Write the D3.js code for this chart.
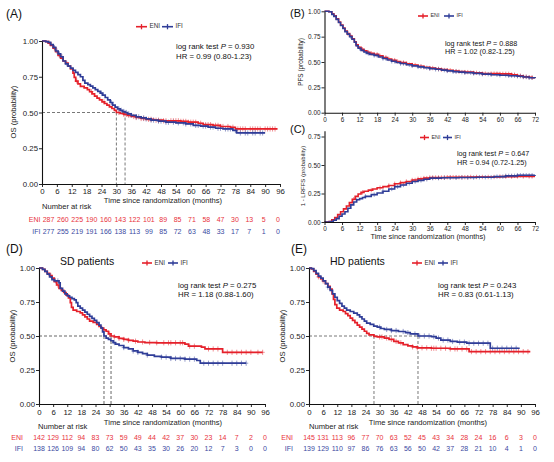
<!DOCTYPE html>
<html><head><meta charset="utf-8">
<script src="https://cdn.jsdelivr.net/npm/d3@7"></script>
<style>
body{margin:0;background:#fff}
svg{display:block}
text{font-family:"Liberation Sans",Arial,Helvetica,sans-serif}
</style>
</head><body>
<svg id="chart" width="554" height="462"></svg>
<script>
// ---------------- DATA ----------------
const monthTicks96 = [0,6,12,18,24,30,36,42,48,54,60,66,72,78,84,90,96];
const monthTicks72 = [0,6,12,18,24,30,36,42,48,54,60,66,72];
const probTicks = [0,0.25,0.5,0.75,1];
const probTicksC = [0,0.25,0.5,0.75];
const groups = ["ENI","IFI"];

// (A) OS, all patients  [month, probability]
const osAll_ENI = [[0,1],[1.5,0.995],[2.5,0.985],[3.5,0.97],[4.5,0.95],[5.5,0.925],[6.5,0.9],[7.5,0.88],[8.5,0.86],[9.5,0.845],[10.5,0.825],[11.5,0.805],[12.5,0.775],[13,0.745],[13.6,0.72],[14.5,0.7],[15.5,0.682],[17,0.672],[18.3,0.66],[19.2,0.645],[20.2,0.63],[21.2,0.615],[22.2,0.6],[23.2,0.588],[24.2,0.575],[25.2,0.563],[26.2,0.551],[27.2,0.54],[28.2,0.528],[29.2,0.515],[30,0.5],[31.5,0.493],[33,0.487],[34.5,0.48],[36,0.472],[38,0.465],[40,0.458],[42,0.452],[45,0.446],[49,0.442],[56,0.438],[59,0.432],[63,0.425],[65,0.415],[69,0.41],[72,0.402],[76,0.397],[78,0.385],[95,0.385]];
const osAll_IFI = [[0,1],[1.5,0.996],[2.5,0.99],[3.5,0.975],[4.5,0.955],[5.5,0.93],[6.5,0.91],[7.5,0.89],[8.5,0.86],[9.5,0.84],[10.5,0.825],[11.5,0.81],[12.5,0.795],[13.5,0.78],[14.5,0.765],[15.5,0.75],[16.5,0.725],[17.3,0.705],[18.5,0.695],[19.5,0.685],[20.5,0.672],[21.5,0.66],[22.5,0.648],[23.5,0.635],[24.5,0.622],[25.5,0.605],[26.5,0.588],[27.5,0.57],[28.5,0.552],[29.5,0.537],[30.5,0.525],[31.5,0.515],[32.5,0.507],[33.5,0.5],[34.5,0.49],[36,0.48],[38,0.47],[40,0.462],[42,0.455],[44,0.447],[47,0.44],[50,0.432],[54,0.428],[58,0.42],[61,0.41],[64,0.405],[67,0.398],[70,0.39],[73,0.385],[77,0.375],[78.5,0.357],[90,0.357]];
const censAll_ENI = [3,5,7,14,20,25,31,33,34,35,37,38,40,41,43,44,46,47,49,50,52,53,54,55,56,57,58,59,60,61,62,64,66,67,68,70,71,72,73,75,77,79,80,81,82,84,85,86,87,88,90,91,92,93,94];
const censAll_IFI = [5,6,7,8,10,24,28,31,32,33,34,35,36,38,39,41,42,44,45,47,48,50,51,53,55,57,58,60,62,63,65,66,68,69,71,72,74,75,76,78,80,82,83,85,86,88,89];
const mediansAll = [30, 33.5];
const riskAll_ENI = [287,260,225,190,160,143,122,101,89,85,71,58,47,30,13,5,0];
const riskAll_IFI = [277,255,219,191,166,138,113,99,85,72,63,48,33,17,7,1,0];

// (B) PFS
const pfs_ENI = [[0,1],[1.5,0.995],[2.5,0.975],[3.2,0.955],[4,0.925],[4.8,0.895],[5.5,0.865],[6.3,0.835],[7,0.805],[7.8,0.78],[8.6,0.755],[9.4,0.73],[10.2,0.7],[10.8,0.67],[11.5,0.645],[12.5,0.625],[13.5,0.61],[14.5,0.595],[15.5,0.585],[17,0.575],[18.5,0.56],[20,0.545],[21.5,0.53],[23,0.518],[24.5,0.505],[26,0.495],[28,0.483],[30,0.47],[32,0.458],[34,0.448],[36,0.44],[38,0.432],[40,0.425],[42,0.418],[44,0.41],[46,0.405],[48,0.4],[51,0.393],[54,0.385],[60,0.383],[64,0.375],[66,0.365],[68,0.355],[70,0.35],[71,0.345],[72,0.343]];
const pfs_IFI = [[0,1],[1.5,0.995],[2.5,0.97],[3.2,0.95],[4,0.92],[4.8,0.89],[5.5,0.86],[6.3,0.83],[7,0.8],[7.8,0.775],[8.6,0.75],[9.4,0.725],[10.2,0.695],[10.8,0.66],[11.5,0.635],[12.5,0.615],[13.5,0.598],[14.5,0.585],[15.5,0.575],[17,0.565],[18.5,0.55],[20,0.535],[21.5,0.52],[23,0.507],[24.5,0.495],[26,0.485],[28,0.473],[30,0.462],[32,0.452],[34,0.443],[36,0.435],[38,0.428],[40,0.42],[42,0.412],[44,0.405],[46,0.4],[48,0.395],[51,0.388],[54,0.38],[57,0.375],[60,0.37],[63,0.365],[66,0.36],[68,0.352],[70,0.345],[72,0.34]];
const censPfs_ENI = [8,11,13,15,16,18,19,21,22,24,25,27,28,30,31,33,34,36,37,39,40,42,43,45,46,48,49,51,52,54,55,57,58,59,60,61,62,63,64,65,66,67,68,69,70,71];
const censPfs_IFI = [9,12,14,15,17,18,20,21,23,24,26,27,29,30,32,33,35,36,38,39,41,42,44,45,47,48,50,51,53,54,56,57,59,60,62,63,64,65,66,67,68,69,70,71];

// (C) 1 - LRFFS (cumulative incidence)
const lrf_ENI = [[0,0],[1.5,0.005],[2.5,0.02],[3.5,0.04],[4.5,0.065],[5.5,0.09],[6.5,0.115],[7.5,0.14],[8.5,0.17],[9.5,0.2],[10.5,0.225],[11.5,0.245],[12.5,0.26],[13.5,0.27],[15,0.28],[16.5,0.29],[18,0.3],[20,0.31],[22,0.32],[24,0.335],[26,0.345],[28,0.355],[30,0.368],[32,0.378],[34,0.385],[36,0.39],[42,0.393],[50,0.395],[60,0.398],[66,0.4],[72,0.4]];
const lrf_IFI = [[0,0],[2,0.005],[3,0.015],[4,0.03],[5,0.05],[6,0.07],[7,0.09],[8,0.12],[9,0.15],[10,0.175],[11,0.195],[12,0.205],[13,0.215],[14,0.225],[16,0.24],[18,0.255],[20,0.27],[22,0.29],[24,0.31],[26,0.325],[28,0.34],[30,0.355],[32,0.365],[34,0.375],[36,0.385],[40,0.388],[46,0.39],[52,0.393],[58,0.398],[62,0.405],[66,0.41],[72,0.413]];
const censLrf_ENI = [10,13,16,19,22,24,26,28,30,31,32,33,34,35,36,37,38,39,40,41,42,43,44,45,46,47,48,49,50,52,54,56,58,60,62,64,66,68,70,71];
const censLrf_IFI = [11,14,17,20,23,25,27,29,31,33,35,37,39,41,43,45,47,49,51,53,55,57,59,61,62,63,64,65,66,67,68,69,70,71];

// (D) OS, SD patients
const osSD_ENI = [[0,1],[1.5,0.99],[2.5,0.975],[3.5,0.96],[4.5,0.945],[5.5,0.925],[6.5,0.9],[7.5,0.875],[8.5,0.85],[9.5,0.835],[10.5,0.82],[11.5,0.8],[12.5,0.78],[13.3,0.745],[13.8,0.71],[14.5,0.69],[16,0.68],[17.5,0.67],[18.5,0.655],[19.5,0.64],[20.5,0.625],[21.5,0.61],[23,0.6],[24.5,0.585],[25.5,0.57],[26.5,0.558],[27.5,0.545],[28.5,0.535],[29.5,0.515],[30.6,0.5],[32,0.493],[34,0.483],[36,0.475],[38,0.468],[40,0.462],[42,0.456],[45,0.452],[50,0.45],[62,0.44],[63.5,0.425],[69,0.418],[70.5,0.405],[78,0.38],[95,0.38]];
const osSD_IFI = [[0,1],[1.5,0.99],[2.5,0.975],[3.5,0.955],[4.5,0.935],[5.5,0.915],[6.5,0.905],[8.5,0.89],[9,0.85],[10,0.83],[11,0.81],[12,0.795],[13,0.785],[14,0.775],[15,0.765],[15.8,0.745],[16.5,0.72],[17.5,0.705],[18.5,0.69],[19.5,0.675],[20.5,0.66],[21.5,0.645],[22.5,0.63],[23.5,0.615],[24.5,0.598],[25.5,0.58],[26.3,0.56],[27,0.53],[27.6,0.5],[28.5,0.485],[29.5,0.475],[30.5,0.465],[31.5,0.452],[32.5,0.44],[34,0.43],[36,0.415],[38,0.405],[40,0.39],[42,0.38],[44,0.37],[46,0.36],[49,0.35],[52,0.345],[56,0.335],[62,0.33],[67,0.32],[68.5,0.3],[88,0.3]];
const censSD_ENI = [5,8,30,32,34,36,38,41,44,47,50,53,55,56,58,60,61,64,66,72,74,76,80,82,84,86,88,90,93,95];
const censSD_IFI = [7,8,32,36,40,42,46,52,54,56,58,60,62,64,66,70,72,74,76,78,82,84,86,88];
const mediansSD = [30.6, 27.6];
const riskSD_ENI = [142,129,112,94,83,73,59,49,44,42,37,30,23,14,7,2,0];
const riskSD_IFI = [138,126,109,94,80,62,50,43,35,30,26,20,12,7,3,0,0];

// (E) OS, HD patients
const osHD_ENI = [[0,1],[1,0.993],[2,0.975],[3,0.955],[4,0.935],[5,0.92],[6,0.905],[7,0.885],[8,0.865],[9,0.845],[9.8,0.81],[10.4,0.77],[11,0.73],[11.8,0.705],[13,0.69],[14.5,0.68],[15.5,0.665],[16.5,0.65],[17.5,0.632],[18.5,0.615],[19.5,0.598],[20.5,0.58],[21.5,0.565],[22.5,0.55],[23.5,0.535],[24.5,0.52],[25.5,0.508],[27.6,0.497],[29,0.493],[32,0.485],[34,0.475],[36,0.46],[38,0.45],[40,0.437],[42,0.428],[44,0.42],[46,0.413],[52,0.41],[60,0.405],[68,0.385],[94,0.385]];
const osHD_IFI = [[0,1],[1,0.995],[2,0.98],[3,0.96],[4,0.94],[5,0.925],[6,0.905],[7,0.885],[8,0.86],[9,0.835],[10,0.81],[11,0.785],[12,0.76],[13,0.74],[14,0.72],[15,0.705],[16,0.69],[17.5,0.68],[19,0.668],[20.5,0.655],[21.5,0.64],[22.5,0.625],[23.5,0.61],[24.5,0.595],[26,0.585],[27.5,0.573],[29,0.565],[30.5,0.555],[32,0.548],[35,0.54],[38,0.533],[41,0.525],[43,0.515],[46.3,0.5],[52,0.495],[54,0.485],[56,0.47],[60,0.46],[63,0.455],[67,0.447],[77,0.41],[89.5,0.41]];
const censHD_ENI = [4,6,30,31,33,35,37,39,44,46,48,50,52,53,54,56,58,60,62,63,65,67,69,71,73,75,77,79,81,83,85,87,89,91,93];
const censHD_IFI = [8,30,33,35,37,40,42,45,47,49,51,53,55,57,59,61,64,66,68,70,72,74,76,78,80,82,84,86,88];
const mediansHD = [27.6, 46.3];
const riskHD_ENI = [145,131,113,96,77,70,63,52,45,43,34,28,24,16,6,3,0];
const riskHD_IFI = [139,129,110,97,86,76,63,56,50,42,37,28,21,10,4,1,0];

// ---------------- DRAWING ----------------
const RED = "#e5202a", BLUE = "#2f3d98";
const RISK_RED = "#e8323c", RISK_BLUE = "#3b4a9f";
const svg = d3.select("#chart");

function stepAt(data, t) {
  let s = data[0][1];
  for (const d of data) { if (d[0] <= t) s = d[1]; else break; }
  return s;
}

function drawPanel(c) {
  const g = svg.append("g");
  const x = d3.scaleLinear().domain(c.xDomain).range(c.xRange);
  const y = d3.scaleLinear().domain(c.yDomain).range(c.yRange);

  // median dashed lines
  if (c.medians) {
    const mx = d3.max(c.medians);
    g.append("line").attr("x1", x(0)).attr("x2", x(mx)).attr("y1", y(0.5)).attr("y2", y(0.5))
      .attr("stroke", c.dashColor).attr("stroke-width", c.dashWidth).attr("stroke-dasharray", "3,2");
    c.medians.forEach(m => {
      g.append("line").attr("x1", x(m)).attr("x2", x(m)).attr("y1", y(0.5)).attr("y2", y(0))
        .attr("stroke", c.dashColor).attr("stroke-width", c.dashWidth).attr("stroke-dasharray", "3,2");
    });
  }

  // curves
  const line = d3.line().curve(d3.curveStepAfter).x(d => x(d[0])).y(d => y(d[1]));
  c.series.forEach(s => {
    const last = s.data[s.data.length - 1][0];
    const cg = g.append("g").attr("stroke", s.color).attr("stroke-width", 1).attr("opacity", 0.5).attr("fill", "none");
    s.cens.filter(t => t <= last).forEach(t => {
      const cx = x(t), cy = y(stepAt(s.data, t));
      cg.append("path").attr("d", `M${cx},${cy - c.cs}V${cy + c.cs}M${cx - c.cs * 0.8},${cy}H${cx + c.cs * 0.8}`);
    });
  });
  c.series.forEach(s => {
    g.append("path").datum(s.data).attr("d", line).attr("fill", "none")
      .attr("stroke", s.color).attr("stroke-width", c.lw);
  });

  // axes
  const ya = g.append("g").attr("transform", `translate(${c.xRange[0]},0)`)
    .call(d3.axisLeft(y).tickValues(c.yTicks).tickFormat(d3.format(".2f")).tickSize(3).tickPadding(1).tickSizeOuter(0));
  const xa = g.append("g").attr("transform", `translate(0,${c.yRange[0]})`)
    .call(d3.axisBottom(x).tickValues(c.xTicks).tickFormat(d3.format("d")).tickSize(3).tickPadding(c.xPad).tickSizeOuter(0));
  [ya, xa].forEach(a => {
    a.attr("font-family", null).attr("font-size", null);
    a.select(".domain").attr("stroke", "#111").attr("stroke-width", 1.1);
    a.selectAll(".tick line").attr("stroke", "#111").attr("stroke-width", 0.9);
    a.selectAll(".tick text").attr("font-size", c.tickFont).attr("fill", "#222");
  });

  // axis labels
  g.append("text").attr("transform", `translate(${c.yLabelX},${c.yLabelY}) rotate(-90)`)
    .attr("text-anchor", "middle").attr("dominant-baseline", "middle")
    .attr("font-size", c.yLabelFont).attr("fill", "#222").text(c.yLabel);
  if (c.xLabel) {
    g.append("text").attr("x", c.xLabelX).attr("y", c.xLabelY).attr("text-anchor", "middle")
      .attr("dominant-baseline", "middle").attr("font-size", c.xLabelFont).attr("fill", "#222").text(c.xLabel);
  }

  // panel letter & title
  g.append("text").attr("x", c.letterX).attr("y", c.letterY).attr("dominant-baseline", "middle")
    .attr("font-size", c.letterFont).attr("fill", "#111").text(c.letter);
  if (c.title) {
    g.append("text").attr("x", c.titleX).attr("y", c.titleY).attr("dominant-baseline", "middle")
      .attr("font-size", 10.5).attr("fill", "#111").text(c.title);
  }

  // legend
  c.series.forEach((s, i) => {
    const lx = c.legX[i];
    const ly = c.legY;
    g.append("line").attr("x1", lx).attr("x2", lx + c.legLen).attr("y1", ly).attr("y2", ly)
      .attr("stroke", s.color).attr("stroke-width", 1.6);
    g.append("path").attr("d", `M${lx + c.legLen / 2},${ly - 2.6}V${ly + 2.6}`)
      .attr("stroke", s.color).attr("stroke-width", 1.3);
    g.append("text").attr("x", lx + c.legLen + 2.5).attr("y", ly).attr("dominant-baseline", "middle")
      .attr("font-size", c.legFont).attr("fill", "#333").text(groups[i]);
  });

  // annotation
  const t1 = g.append("text").attr("x", c.annX).attr("y", c.annY[0]).attr("dominant-baseline", "middle")
    .attr("font-size", c.annFont).attr("fill", "#111");
  t1.append("tspan").text("log rank test ");
  t1.append("tspan").attr("font-style", "italic").text("P");
  t1.append("tspan").text(" = " + c.pval);
  g.append("text").attr("x", c.annX).attr("y", c.annY[1]).attr("dominant-baseline", "middle")
    .attr("font-size", c.annFont).attr("fill", "#111").text("HR = " + c.hr);

  // number at risk
  if (c.risk) {
    const rx = c.riskScale ? d3.scaleLinear().domain(c.xDomain).range(c.riskScale) : x;
    g.append("text").attr("x", c.risk.labelX).attr("y", c.risk.y[0]).attr("dominant-baseline", "middle")
      .attr("font-size", 7.6).attr("fill", "#222").text("Number at risk");
    [[c.risk.eni, RISK_RED], [c.risk.ifi, RISK_BLUE]].forEach((row, r) => {
      const yy = c.risk.y[r + 1];
      g.append("text").attr("x", c.risk.nameX).attr("y", yy).attr("text-anchor", "end")
        .attr("dominant-baseline", "middle").attr("font-size", 7).attr("fill", row[1]).text(groups[r]);
      row[0].forEach((v, i) => {
        g.append("text").attr("x", rx(c.xTicks[i])).attr("y", yy).attr("text-anchor", "middle")
          .attr("dominant-baseline", "middle").attr("font-size", 7).attr("fill", row[1]).text(v);
      });
    });
  }
}

// Panel A
drawPanel({
  xDomain: [0, 96], xRange: [42, 280], yDomain: [0, 1], yRange: [184, 41],
  xTicks: monthTicks96, yTicks: probTicks, tickFont: 7.8, xPad: 1.5, lw: 1.7, cs: 2.6,
  series: [{data: osAll_ENI, cens: censAll_ENI, color: RED}, {data: osAll_IFI, cens: censAll_IFI, color: BLUE}],
  medians: mediansAll, dashColor: "#555", dashWidth: 0.8,
  yLabel: "OS (probability)", yLabelX: 14, yLabelY: 112, yLabelFont: 7.6,
  xLabel: "Time since randomization (months)", xLabelX: 163, xLabelY: 201, xLabelFont: 7.6,
  letter: "(A)", letterX: 6, letterY: 15, letterFont: 12,
  legX: [136, 162], legY: 26.7, legLen: 11, legFont: 6.3,
  annX: 176, annY: [47, 56.5], annFont: 7.8, pval: "0.930", hr: "0.99 (0.80-1.23)",
  riskScale: [48.5, 278],
  risk: {eni: riskAll_ENI, ifi: riskAll_IFI, labelX: 42, nameX: 40.5, y: [207, 220.3, 231.7]}
});

// Panel B
drawPanel({
  xDomain: [0, 72], xRange: [324.5, 535], yDomain: [0, 1], yRange: [112.7, 11.3],
  xTicks: monthTicks72, yTicks: probTicks, tickFont: 6.4, xPad: 1.5, lw: 1.6, cs: 2.2,
  series: [{data: pfs_ENI, cens: censPfs_ENI, color: RED}, {data: pfs_IFI, cens: censPfs_IFI, color: BLUE}],
  yLabel: "PFS (probability)", yLabelX: 301, yLabelY: 62, yLabelFont: 6.4,
  letter: "(B)", letterX: 290, letterY: 14.5, letterFont: 11,
  legX: [418, 444], legY: 16, legLen: 10, legFont: 5.4,
  annX: 445, annY: [44, 52.5], annFont: 7.2, pval: "0.888", hr: "1.02 (0.82-1.25)"
});

// Panel C
drawPanel({
  xDomain: [0, 72], xRange: [324.5, 535], yDomain: [0, 0.8], yRange: [222, 130.8],
  xTicks: monthTicks72, yTicks: probTicksC, tickFont: 6.4, xPad: 1.5, lw: 1.6, cs: 2.2,
  series: [{data: lrf_ENI, cens: censLrf_ENI, color: RED}, {data: lrf_IFI, cens: censLrf_IFI, color: BLUE}],
  yLabel: "1 - LRFFS (probability)", yLabelX: 303, yLabelY: 176, yLabelFont: 6,
  xLabel: "Time since randomization (months)", xLabelX: 428, xLabelY: 237, xLabelFont: 7.4,
  letter: "(C)", letterX: 290, letterY: 130, letterFont: 11,
  legX: [420, 443], legY: 137.5, legLen: 9, legFont: 5.4,
  annX: 457, annY: [154, 163], annFont: 7.2, pval: "0.647", hr: "0.94 (0.72-1.25)"
});

// Panel D
drawPanel({
  xDomain: [0, 96], xRange: [39, 265], yDomain: [0, 1], yRange: [404, 268],
  xTicks: monthTicks96, yTicks: probTicks, tickFont: 7.8, xPad: 2, lw: 1.7, cs: 2.6,
  series: [{data: osSD_ENI, cens: censSD_ENI, color: RED}, {data: osSD_IFI, cens: censSD_IFI, color: BLUE}],
  medians: mediansSD, dashColor: "#9a9a9a", dashWidth: 1.5,
  yLabel: "OS (probability)", yLabelX: 13, yLabelY: 336, yLabelFont: 7.6,
  xLabel: "Time since randomization (months)", xLabelX: 163, xLabelY: 423, xLabelFont: 7.6,
  letter: "(D)", letterX: 6, letterY: 250, letterFont: 12,
  title: "SD patients", titleX: 60, titleY: 262,
  legX: [142, 168], legY: 263, legLen: 10, legFont: 6.3,
  annX: 178, annY: [286, 294.5], annFont: 7.8, pval: "0.275", hr: "1.18 (0.88-1.60)",
  risk: {eni: riskSD_ENI, ifi: riskSD_IFI, labelX: 38, nameX: 23, y: [427, 437.7, 449]}
});

// Panel E
drawPanel({
  xDomain: [0, 96], xRange: [309, 535], yDomain: [0, 1], yRange: [404, 268],
  xTicks: monthTicks96, yTicks: probTicks, tickFont: 7.8, xPad: 2, lw: 1.7, cs: 2.6,
  series: [{data: osHD_ENI, cens: censHD_ENI, color: RED}, {data: osHD_IFI, cens: censHD_IFI, color: BLUE}],
  medians: mediansHD, dashColor: "#555", dashWidth: 0.8,
  yLabel: "OS (probability)", yLabelX: 283, yLabelY: 336, yLabelFont: 7.6,
  xLabel: "Time since randomization (months)", xLabelX: 428, xLabelY: 423, xLabelFont: 7.6,
  letter: "(E)", letterX: 291, letterY: 250, letterFont: 12,
  title: "HD patients", titleX: 330, titleY: 262,
  legX: [412, 438], legY: 263, legLen: 10, legFont: 6.3,
  annX: 438, annY: [286, 294.5], annFont: 7.8, pval: "0.243", hr: "0.83 (0.61-1.13)",
  risk: {eni: riskHD_ENI, ifi: riskHD_IFI, labelX: 309, nameX: 293, y: [427, 437.7, 449]}
});
</script>
</body></html>
